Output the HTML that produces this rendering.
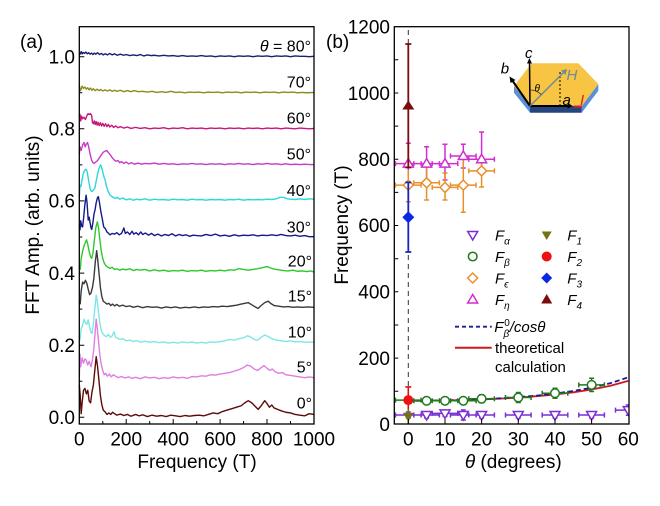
<!DOCTYPE html>
<html><head><meta charset="utf-8"><style>
html,body{margin:0;padding:0;background:#fff;}
svg{display:block;font-family:"Liberation Sans",Arial,sans-serif;}
</style></head><body>
<svg width="660" height="506" viewBox="0 0 660 506" xmlns="http://www.w3.org/2000/svg">
<defs>
<clipPath id="cb"><rect x="394.3" y="26.7" width="234.7" height="397.3"/></clipPath>
</defs>
<rect width="660" height="506" fill="#fff"/>

<!-- ===== Panel (a) ===== -->
<g fill="none" stroke-width="1.4" stroke-linejoin="round">
<g transform="translate(79.3,417.3) scale(0.2347,-0.3606)">
<path vector-effect="non-scaling-stroke" stroke="#5c0b0b" d="M0,90 4,60 8,10 12,40 18,75 24,80 30,65 36,75 42,45 48,40 54,70 60,90 66,130 72,168 78,140 84,100 90,60 96,35 102,20 110,15 118,8 126,12 134,8 142,14 150,10 160,6 175,9 190,5 205,8 220,3 240,8 255,4 270,7 290,2 310,6 330,3 350,5 370,2 390,6 410,4 430,2 450,5 470,3 490,5 510,6 530,4 550,8 570,12 590,10 610,16 630,20 650,24 670,28 690,32 705,40 720,46 735,40 750,30 762,22 775,32 790,46 800,38 810,28 820,34 830,26 845,22 860,18 880,14 900,12 920,8 940,6 960,4 980,10 1000,8"/>
<path vector-effect="non-scaling-stroke" stroke="#e07ee0" transform="translate(0,100)" d="M0,10 3,75 6,40 12,65 18,50 24,62 30,58 36,45 42,55 50,40 56,60 62,90 68,140 72,172 76,150 82,110 88,70 94,45 100,30 106,18 112,22 120,14 128,20 136,12 145,18 155,14 165,10 180,13 195,9 210,12 225,8 240,11 260,7 280,12 300,9 320,11 340,7 360,10 380,8 400,12 420,9 440,11 460,8 480,13 500,12 520,15 540,14 560,18 580,17 600,20 620,22 640,24 660,28 680,32 700,38 715,45 730,42 745,34 760,30 775,38 787,43 800,36 812,30 822,34 835,26 850,22 865,24 880,18 900,16 920,14 940,12 960,10 980,12 1000,10"/>
<path vector-effect="non-scaling-stroke" stroke="#7fe6e6" transform="translate(0,200)" d="M0,30 3,14 8,45 14,55 20,72 26,62 32,58 38,70 44,50 50,35 55,33 60,60 66,100 72,139 76,125 82,90 88,60 94,40 100,32 108,26 116,24 124,30 132,22 140,26 148,37 154,22 162,20 172,16 185,18 200,12 215,14 230,10 245,13 260,8 280,11 300,8 320,10 340,7 360,9 380,6 400,8 420,6 440,9 460,7 480,9 500,6 520,8 540,6 560,9 580,8 600,10 620,12 640,16 660,14 680,18 700,20 715,26 728,24 745,16 760,14 775,22 790,28 805,24 820,18 840,14 860,12 880,10 900,12 920,9 940,10 960,8 980,9 1000,8"/>
<path vector-effect="non-scaling-stroke" stroke="#3a3a3a" transform="translate(0,300)" d="M0,20 4,15 8,50 14,75 20,70 26,80 32,72 38,55 44,40 50,45 56,60 62,85 68,130 74,162 78,140 84,100 90,60 96,35 102,22 110,18 118,14 126,16 134,10 142,14 150,9 160,13 170,8 185,11 200,7 215,9 230,5 250,8 270,4 290,7 310,5 330,6 350,3 370,6 390,4 410,6 430,3 450,5 470,4 490,6 510,4 530,6 550,5 570,7 590,6 610,8 630,7 650,9 670,11 690,14 705,16 720,18 735,12 750,6 762,2 775,10 790,18 805,22 815,16 830,10 850,8 870,6 890,7 910,5 930,6 950,5 975,6 1000,5"/>
<path vector-effect="non-scaling-stroke" stroke="#2ec82e" transform="translate(0,400)" d="M0,22 4,10 8,40 14,60 20,75 26,85 31,92 36,80 42,60 48,45 53,41 58,55 64,90 70,125 77,142 82,125 88,90 94,60 100,40 106,28 114,20 122,16 131,13 140,16 150,10 160,12 172,8 185,11 200,9 215,12 230,7 245,10 260,8 280,10 300,6 320,9 340,6 360,8 380,5 400,7 420,6 440,8 460,5 480,7 500,6 520,8 540,5 560,7 580,6 600,8 620,6 640,9 660,8 680,12 700,10 720,8 740,10 760,12 780,15 800,18 815,14 830,11 850,9 870,7 890,6 910,8 930,5 950,6 970,4 985,6 1000,3"/>
<path vector-effect="non-scaling-stroke" stroke="#141a8c" transform="translate(0,500)" d="M0,33 3,20 6,45 10,30 14,28 18,50 23,85 29,116 33,95 38,47 42,55 46,40 50,25 53,21 58,40 63,65 67,75 72,95 77,108 81,112 86,95 92,70 98,50 104,28 110,24 118,14 125,10 131,6 140,10 150,8 160,12 170,6 180,10 190,25 196,10 205,14 215,7 225,16 232,8 242,12 252,6 262,14 270,7 282,11 295,5 308,10 320,4 335,8 350,3 365,7 380,4 395,9 410,3 425,7 440,4 455,6 470,2 485,5 500,4 520,3 540,7 560,4 580,8 600,3 620,5 640,2 660,6 680,3 700,5 720,4 740,6 760,3 780,5 800,4 820,6 840,4 860,7 880,4 900,3 920,5 940,2 960,4 980,1 1000,1"/>
<path vector-effect="non-scaling-stroke" stroke="#2fd6dc" transform="translate(0,600)" d="M0,10 3,44 7,40 12,60 18,78 24,86 29,88 34,80 40,55 46,35 50,28 54,26 60,30 66,35 72,55 78,75 84,90 90,100 94,96 100,80 106,65 110,58 116,40 122,28 131,16 140,12 152,7 162,10 172,5 185,8 200,3 215,6 230,2 245,5 260,3 280,6 300,2 320,5 340,3 360,4 380,2 400,5 420,3 440,4 460,2 480,5 500,3 520,4 540,2 560,4 580,3 600,4 620,2 640,4 660,3 680,5 700,2 720,4 740,3 760,4 780,3 800,5 820,4 840,6 855,10 870,10 885,6 900,5 920,4 940,6 960,4 980,6 1000,5"/>
<path vector-effect="non-scaling-stroke" stroke="#c43cc4" transform="translate(0,700)" d="M0,30 3,50 8,40 14,55 20,62 25,50 30,58 35,62 40,50 46,30 52,14 58,6 63,4 70,8 78,12 86,20 94,28 102,35 110,38 117,40 124,34 132,28 140,20 148,14 156,10 165,12 172,6 180,9 190,4 200,8 210,3 222,6 235,2 250,5 265,2 280,4 300,3 320,5 340,2 360,4 380,2 400,3 420,1 440,3 460,2 480,4 500,2 520,3 540,1 560,3 580,2 600,3 620,1 640,3 660,2 680,4 700,2 720,3 740,1 760,3 780,2 800,4 820,2 840,3 860,1 880,3 900,1 920,2 940,1 960,2 980,1 1000,1"/>
<path vector-effect="non-scaling-stroke" stroke="#c8177a" transform="translate(0,800)" d="M0,30 3,40 6,22 10,35 14,28 20,32 26,26 32,36 37,42 42,40 48,42 53,36 56,18 60,14 64,22 68,12 72,20 76,10 80,18 85,9 90,17 95,8 100,15 106,7 112,14 118,6 124,12 130,5 138,10 146,4 155,8 165,3 175,6 190,2 205,5 220,1 240,4 260,1 280,3 300,0 320,2 340,1 360,3 380,0 400,2 420,1 440,3 460,0 480,2 500,1 520,2 540,0 560,2 580,1 600,2 620,0 640,2 660,1 680,2 700,0 720,2 740,1 760,2 780,0 800,2 820,1 840,2 860,0 880,2 900,1 920,0 940,2 960,1 980,0 1000,1"/>
<path vector-effect="non-scaling-stroke" stroke="#8b8b1c" transform="translate(0,900)" d="M0,22 4,5 8,10 12,18 18,12 24,16 30,10 36,14 42,8 48,13 54,7 60,11 68,6 76,10 84,6 92,9 100,5 110,8 120,5 130,8 140,4 150,7 160,4 175,7 190,3 205,6 220,3 235,6 250,3 270,4 290,2 310,4 330,1 350,3 370,1 390,4 410,1 430,2 450,0 470,2 490,1 510,2 530,0 550,2 570,1 590,2 610,0 630,2 650,1 670,2 690,0 710,2 730,1 750,2 770,0 790,2 810,1 830,2 850,0 870,2 890,1 910,2 930,0 950,1 970,0 1000,1"/>
<path vector-effect="non-scaling-stroke" stroke="#1b1f6e" transform="translate(0,1000)" d="M0,5 4,8 8,14 12,8 16,12 22,9 28,13 34,8 40,11 46,7 52,10 58,6 64,10 70,7 78,11 86,6 94,9 102,5 110,8 120,5 130,9 140,5 150,8 162,4 175,7 188,4 200,6 215,3 230,5 245,3 260,6 275,2 290,5 305,3 320,4 340,2 360,4 380,2 400,3 420,1 440,3 460,1 480,2 500,1 520,3 540,1 560,2 580,0 600,2 620,1 640,2 660,0 680,2 700,1 720,2 740,0 760,2 780,1 800,2 820,0 840,2 860,1 880,2 900,0 920,2 940,1 960,1 980,0 1000,1"/>
</g>
</g>

<rect x="79.3" y="26.7" width="234.7" height="397.3" fill="none" stroke="#000" stroke-width="1.3"/>
<path stroke="#000" stroke-width="1" fill="none" d="M79.3,417.3h5M79.3,381.2h3M79.3,345.2h5M79.3,309.1h3M79.3,273.1h5M79.3,237h3M79.3,200.9h5M79.3,164.9h3M79.3,128.8h5M79.3,92.8h3M79.3,56.7h5
M102.8,424v-3M126.2,424v-5M149.7,424v-3M173.2,424v-5M196.7,424v-3M220.1,424v-5M243.6,424v-3M267,424v-5M290.5,424v-3"/>
<g font-size="19" fill="#000" text-anchor="end">
<text x="75" y="424.1">0.0</text>
<text x="75" y="352">0.2</text>
<text x="75" y="279.9">0.4</text>
<text x="75" y="207.7">0.6</text>
<text x="75" y="135.6">0.8</text>
<text x="75" y="63.5">1.0</text>
</g>
<g font-size="19" fill="#000" text-anchor="middle">
<text x="79.3" y="445.5">0</text>
<text x="126.2" y="445.5">200</text>
<text x="173.2" y="445.5">400</text>
<text x="220.1" y="445.5">600</text>
<text x="267" y="445.5">800</text>
<text x="314" y="445.5">1000</text>
<text x="197" y="468">Frequency (T)</text>
</g>
<text transform="translate(39,225) rotate(-90)" font-size="19" text-anchor="middle" fill="#000">FFT Amp. (arb. units)</text>
<text x="20" y="48" font-size="19" fill="#000">(a)</text>
<g font-size="16" fill="#000" text-anchor="end">
<text x="311" y="51.7"><tspan font-style="italic">θ</tspan> = 80°</text>
<text x="311" y="87.3">70°</text>
<text x="311" y="123.3">60°</text>
<text x="311" y="159.3">50°</text>
<text x="311" y="196">40°</text>
<text x="311" y="232.7">30°</text>
<text x="312" y="266.7">20°</text>
<text x="312" y="301.7">15°</text>
<text x="312" y="337.3">10°</text>
<text x="312" y="372.7">5°</text>
<text x="312" y="408.3">0°</text>
</g>

<!-- ===== Panel (b) ===== -->
<g clip-path="url(#cb)">
<line x1="408.3" y1="30" x2="408.3" y2="424" stroke="#333" stroke-width="1" stroke-dasharray="5,4"/>
<polyline fill="none" stroke="#d01818" stroke-width="1.8" points="408.3,400.8 426.6,400.7 445,400.5 463.3,400 481.6,399.5 500,398.6 518.3,397.6 536.6,396.2 555,394.5 573.3,392.3 591.6,389.5 610,385.9 628.3,380.9"/>
<polyline fill="none" stroke="#1a1a9a" stroke-width="1.8" stroke-dasharray="5,3" points="408.3,400.8 426.6,400.7 445,400.4 463.3,399.9 481.6,399.3 500,398.3 518.3,397.1 536.6,395.6 555,393.6 573.3,391 591.6,387.7 610,383.3 628.3,377.3"/>

<g fill="none" stroke-width="1.5">
<path stroke="#7a2ed6" d="M395.5,415H421.1M395.5,412.5V417.5M421.1,412.5V417.5M408.3,412V418M405.8,412H410.8M405.8,418H410.8
M413.8,415H439.4M413.8,412.5V417.5M439.4,412.5V417.5M426.6,412V418M424.1,412H429.1M424.1,418H429.1
M432.2,413.4H457.8M432.2,410.9V415.9M457.8,410.9V415.9M445,410.4V416.4M442.5,410.4H447.5M442.5,416.4H447.5
M450.5,415H476.1M450.5,412.5V417.5M476.1,412.5V417.5M463.3,410V420M460.8,410H465.8M460.8,420H465.8
M468.8,415H494.4M468.8,412.5V417.5M494.4,412.5V417.5M481.6,412V418M479.1,412H484.1M479.1,418H484.1
M505.5,415H531.1M505.5,412.5V417.5M531.1,412.5V417.5M518.3,412V418M515.8,412H520.8M515.8,418H520.8
M542.2,415H567.8M542.2,412.5V417.5M567.8,412.5V417.5M555,412V418M552.5,412H557.5M552.5,418H557.5
M578.8,415H604.4M578.8,412.5V417.5M604.4,412.5V417.5M591.6,412V418M589.1,412H594.1M589.1,418H594.1
M615.5,410.1H641M615.5,407.6V412.6M628.3,405V415.2M625.8,405H630.8M625.8,415.2H630.8"/>
<path stroke="#1e7a1e" d="M395.5,400.1H421.1M395.5,397.6V402.6M421.1,397.6V402.6M408.3,396.8V403.4M405.8,396.8H410.8M405.8,403.4H410.8
M413.8,400.8H439.4M413.8,398.3V403.3M439.4,398.3V403.3M426.6,397.5V404.1M424.1,397.5H429.1M424.1,404.1H429.1
M432.2,400.8H457.8M432.2,398.3V403.3M457.8,398.3V403.3M445,397.5V404.1M442.5,397.5H447.5M442.5,404.1H447.5
M450.5,400.8H476.1M450.5,398.3V403.3M476.1,398.3V403.3M463.3,397.5V404.1M460.8,397.5H465.8M460.8,404.1H465.8
M468.8,398.8H494.4M468.8,396.3V401.3M494.4,396.3V401.3M481.6,394.8V402.8M479.1,394.8H484.1M479.1,402.8H484.1
M505.5,397.5H531.1M505.5,395V400M531.1,395V400M518.3,392.5V402.5M515.8,392.5H520.8M515.8,402.5H520.8
M542.2,393.2H567.8M542.2,390.7V395.7M567.8,390.7V395.7M555,388.2V398.2M552.5,388.2H557.5M552.5,398.2H557.5
M578.8,384.9H604.4M578.8,382.4V387.4M604.4,382.4V387.4M591.6,378.3V391.5M589.1,378.3H594.1M589.1,391.5H594.1"/>
<path stroke="#d02ed0" d="M395.5,163.6H421.1M395.5,161.1V166.1M421.1,161.1V166.1M408.3,143.3V175M405.8,143.3H410.8
M413.8,163.6H439.4M413.8,161.1V166.1M439.4,161.1V166.1M426.6,146.7V180M424.1,146.7H429.1M424.1,180H429.1
M432.2,163.6H457.8M432.2,161.1V166.1M457.8,161.1V166.1M445,144.3V180M442.5,144.3H447.5M442.5,180H447.5
M450.5,156H476.1M450.5,153.5V158.5M476.1,153.5V158.5M463.3,144.3V168M460.8,144.3H465.8M460.8,168H465.8
M468.8,159.3H494.4M468.8,156.8V161.8M494.4,156.8V161.8M481.6,132V170M479.1,132H484.1M479.1,170H484.1"/>
<path stroke="#e8902a" d="M395.5,185.1H421.1M395.5,182.6V187.6M421.1,182.6V187.6M408.3,170V201.7M405.8,201.7H410.8
M413.8,182.8H439.4M413.8,180.3V185.3M439.4,180.3V185.3M426.6,163V200M424.1,163H429.1M424.1,200H429.1
M432.2,187.4H457.8M432.2,184.9V189.9M457.8,184.9V189.9M445,173V200M442.5,173H447.5M442.5,200H447.5
M450.5,185.1H476.1M450.5,182.6V187.6M476.1,182.6V187.6M463.3,156V212.3M460.8,156H465.8M460.8,212.3H465.8
M468.8,170.9H494.4M468.8,168.4V173.4M494.4,168.4V173.4M481.6,157V187M479.1,157H484.1M479.1,187H484.1"/>
</g>

<g fill="#fff" stroke-width="1.5">
<g stroke="#7a2ed6">
<polygon points="421.6,411.5 431.6,411.5 426.6,420"/>
<polygon points="440,409.9 450,409.9 445,418.4"/>
<polygon points="458.3,411.5 468.3,411.5 463.3,420"/>
<polygon points="476.6,411.5 486.6,411.5 481.6,420"/>
<polygon points="513.3,411.5 523.3,411.5 518.3,420"/>
<polygon points="550,411.5 560,411.5 555,420"/>
<polygon points="586.6,411.5 596.6,411.5 591.6,420"/>
<polygon points="623.3,406.6 633.3,406.6 628.3,415.1"/>
</g>
<g stroke="#1e7a1e">
<circle cx="426.6" cy="400.8" r="4.3"/>
<circle cx="445" cy="400.8" r="4.3"/>
<circle cx="463.3" cy="400.8" r="4.3"/>
<circle cx="481.6" cy="398.8" r="4.3"/>
<circle cx="518.3" cy="397.5" r="4.3"/>
<circle cx="555" cy="393.2" r="4.3"/>
<circle cx="591.6" cy="384.9" r="4.3"/>
</g>
<g stroke="#d02ed0">
<polygon points="408.3,158.6 403.3,167.1 413.3,167.1"/>
<polygon points="426.6,158.6 421.6,167.1 431.6,167.1"/>
<polygon points="445,158.6 440,167.1 450,167.1"/>
<polygon points="463.3,151 458.3,159.5 468.3,159.5"/>
<polygon points="481.6,154.3 476.6,162.8 486.6,162.8"/>
</g>
<g stroke="#e8902a">
<polygon points="408.3,180.1 413.3,185.1 408.3,190.1 403.3,185.1"/>
<polygon points="426.6,177.8 431.6,182.8 426.6,187.8 421.6,182.8"/>
<polygon points="445,182.4 450,187.4 445,192.4 440,187.4"/>
<polygon points="463.3,180.1 468.3,185.1 463.3,190.1 458.3,185.1"/>
<polygon points="481.6,165.9 486.6,170.9 481.6,175.9 476.6,170.9"/>
</g>
</g>

<path fill="none" stroke="#7a0c0c" stroke-width="1.8" d="M408.3,44V167.5M405.3,44H411.3M405.3,167.5H411.3"/>
<polygon points="408.3,100.4 402.3,109.5 414.3,109.5" fill="#7a0c0c"/>
<path fill="none" stroke="#1428c0" stroke-width="1.8" d="M408.3,182.4V252M405.3,182.4H411.3M405.3,252H411.3"/>
<polygon points="408.3,211.2 414.3,217.2 408.3,223.2 402.3,217.2" fill="#0a28e0"/>
<path fill="none" stroke="#e01010" stroke-width="1.6" d="M408.3,386.9V411M405.3,386.9H411.3"/>
<circle cx="408.3" cy="400.1" r="5" fill="#ee1111"/>
<path fill="none" stroke="#737312" stroke-width="1.6" d="M408.3,409V424"/>
<polygon points="402.8,412.7 413.8,412.7 408.3,421.5" fill="#737312"/>
</g>

<rect x="394.3" y="26.7" width="234.7" height="397.3" fill="none" stroke="#000" stroke-width="1.3"/>
<path stroke="#000" stroke-width="1" fill="none" d="M394.3,391.2h4M394.3,358.1h4M394.3,325h4M394.3,291.8h4M394.3,258.7h4M394.3,225.5h4M394.3,192.4h4M394.3,159.2h4M394.3,126.1h4M394.3,93h4M394.3,59.8h4
M408.3,424v-5M445,424v-5M481.6,424v-5M518.3,424v-5M555,424v-5M591.6,424v-5"/>
<g font-size="19" fill="#000" text-anchor="end">
<text x="390" y="33.5">1200</text>
<text x="390" y="100.1">1000</text>
<text x="390" y="166.1">800</text>
<text x="390" y="232.1">600</text>
<text x="390" y="298.5">400</text>
<text x="390" y="365.1">200</text>
<text x="390" y="431.1">0</text>
</g>
<g font-size="19" fill="#000" text-anchor="middle">
<text x="408.3" y="445.5">0</text>
<text x="445" y="445.5">10</text>
<text x="481.6" y="445.5">20</text>
<text x="518.3" y="445.5">30</text>
<text x="555" y="445.5">40</text>
<text x="591.6" y="445.5">50</text>
<text x="628.3" y="445.5">60</text>
<text x="513.3" y="468"><tspan font-style="italic">θ</tspan> (degrees)</text>
</g>
<text transform="translate(348,225) rotate(-90)" font-size="19" text-anchor="middle" fill="#000">Frequency (T)</text>
<text x="326" y="48" font-size="19" fill="#000">(b)</text>

<g stroke-width="1.5">
<polygon points="467.7,231.5 477.7,231.5 472.7,240" fill="#fff" stroke="#7a2ed6"/>
<polygon points="541.7,231.5 551.7,231.5 546.7,240" fill="#737312"/>
<circle cx="472.7" cy="256.5" r="4.3" fill="#fff" stroke="#1e7a1e"/>
<circle cx="546.7" cy="256.5" r="5" fill="#ee1111"/>
<polygon points="472.7,273 477.7,278 472.7,283 467.7,278" fill="#fff" stroke="#e8902a"/>
<polygon points="546.7,272.5 552.2,278 546.7,283.5 541.2,278" fill="#0a28e0"/>
<polygon points="472.7,294.5 467.7,303 477.7,303" fill="#fff" stroke="#d02ed0"/>
<polygon points="546.7,294 541.2,303.5 552.2,303.5" fill="#7a0c0c"/>
</g>
<g font-size="15" font-style="italic" fill="#000">
<text x="495" y="240.5">F<tspan font-size="10" dy="4">α</tspan></text>
<text x="495" y="262">F<tspan font-size="10" dy="4">β</tspan></text>
<text x="495" y="283.5">F<tspan font-size="10" dy="4">ϵ</tspan></text>
<text x="495" y="305">F<tspan font-size="10" dy="4">η</tspan></text>
<text x="567.3" y="240.5">F<tspan font-size="10" dy="4">1</tspan></text>
<text x="567.3" y="262">F<tspan font-size="10" dy="4">2</tspan></text>
<text x="567.3" y="283.5">F<tspan font-size="10" dy="4">3</tspan></text>
<text x="567.3" y="305">F<tspan font-size="10" dy="4">4</tspan></text>
<text x="494.3" y="332">F<tspan font-size="10" dy="5">β</tspan><tspan font-size="10" dx="-5" dy="-11" font-style="normal">0</tspan><tspan dy="6">/cos</tspan>θ</text>
</g>
<line x1="455" y1="326.7" x2="491.7" y2="326.7" stroke="#1a1a9a" stroke-width="1.8" stroke-dasharray="4,3"/>
<line x1="455" y1="347.7" x2="491.7" y2="347.7" stroke="#d01818" stroke-width="2"/>
<text x="495" y="353" font-size="15" fill="#000">theoretical</text>
<text x="495" y="372" font-size="15" fill="#000">calculation</text>

<polygon points="514,86 530,106 530,112.7 514,92.7" fill="#5b8fd6"/>
<polygon points="581.7,106 598.3,84 598.3,90.7 581.7,112.7" fill="#5b8fd6"/>
<polygon points="530,106 581.7,106 581.7,112.7 530,112.7" fill="#26457f"/>
<polygon points="514,86 531.7,63.3 578.3,63.3 598.3,84 581.7,106 530,106" fill="#f7c443"/>
<line x1="560" y1="72" x2="560" y2="106" stroke="#000" stroke-width="1" stroke-dasharray="2,2"/>
<line x1="530" y1="106" x2="512" y2="80" stroke="#000" stroke-width="2"/>
<polygon points="509.5,76.5 515.5,80 510.5,83" fill="#000"/>
<line x1="530" y1="106" x2="529.5" y2="62" stroke="#000" stroke-width="1.5"/>
<polygon points="529.4,58 532,63.5 527,63.5" fill="#000"/>
<line x1="530" y1="106" x2="569" y2="106" stroke="#000" stroke-width="2"/>
<polygon points="573,106 567.5,103.5 567.5,108.5" fill="#000"/>
<line x1="574" y1="106.5" x2="582" y2="106.5" stroke="#e02020" stroke-width="2"/>
<line x1="530" y1="106" x2="564" y2="72" stroke="#6f8a9a" stroke-width="1.5"/>
<polygon points="567,69 565.5,75 561,70.5" fill="#6f8a9a"/>
<path d="M530,90 A16,16 0 0,1 541.3,94.7" fill="none" stroke="#333" stroke-width="0.8"/>
<g font-style="italic">
<text x="525" y="58" font-size="15" fill="#000">c</text>
<text x="500.7" y="73.3" font-size="15" fill="#000">b</text>
<text x="566.5" y="80" font-size="15" fill="#6f8a9a">H</text>
<text x="534.5" y="91.5" font-size="10" fill="#000">θ</text>
<text x="562.5" y="105" font-size="15" fill="#000">a</text>
<text x="580" y="105" font-size="15" fill="#e02020">I</text>
</g>
</svg>
</body></html>
